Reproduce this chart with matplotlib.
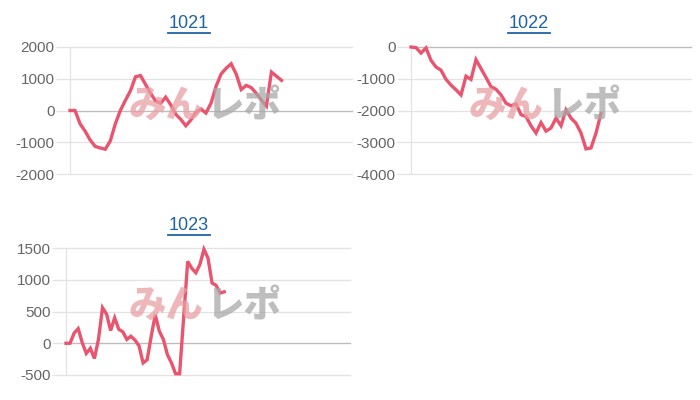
import matplotlib
matplotlib.use("Agg")
import matplotlib.pyplot as plt
import numpy as np

plt.rcParams['font.family'] = ['Liberation Sans', 'DejaVu Sans']

titles = ["1021", "1022", "1023"]

values_1021 = [0, 0, -420, -650, -930, -1130, -1180, -1220, -960, -420,
               0, 320, 620, 1060, 1100, 820, 540, 300, 230, 420,
               180, -120, -280, -480, -300, -60, 50, -80, 230, 760,
               1150, 1330, 1470, 1150, 660, 790, 720, 540, 330, 140,
               1210, 1080, 950]
values_1022 = [0, -20, -190, -30, -420, -630, -730, -1020, -1200, -1350,
               -1510, -920, -1020, -400, -680, -960, -1250, -1330, -1510, -1770,
               -1850, -1790, -2130, -2190, -2480, -2710, -2380, -2650, -2550, -2240,
               -2480, -1980, -2240, -2400, -2710, -3210, -3180, -2710, -2090]
values_1023 = [0, 0, 160, 230, 10, -160, -80, -240, 60, 560,
               460, 200, 400, 220, 180, 60, 110, 50, -40, -310,
               -260, 110, 450, 190, 60, -180, -310, -480, -480, 410,
               1290, 1180, 1110, 1240, 1480, 1340, 950, 910, 790, 810]

series = [values_1021, values_1022, values_1023]
yticks = [[2000, 1000, 0, -1000, -2000],
          [0, -1000, -2000, -3000, -4000],
          [1500, 1000, 500, 0, -500]]
x_slots = [56, 56, 70]

# axes rectangles in pixels: left, top, right, bottom
rects = [(70, 47, 352, 174), (411, 47, 691, 174), (66, 248, 350, 375)]
title_pos = [(189, 23), (529, 23), (189, 225)]
mark_pos = [(205, 106), (545, 106), (205, 306)]

W, H = 700, 400
fig = plt.figure(figsize=(7, 4), dpi=100)

line_color = "#e9546f"
title_color = "#1f63a8"
cjk = ["Noto Sans CJK JP", "DejaVu Sans"]

for i, (vals, ticks, xs, r) in enumerate(zip(series, yticks, x_slots, rects)):
    l, t, rr, b = r
    ax = fig.add_axes([l / W, 1 - b / H, (rr - l) / W, (b - t) / H])
    ax.set_ylim(min(ticks), max(ticks))
    ax.set_xlim(0, xs)
    ax.set_yticks(ticks)
    ax.set_yticklabels([str(v) for v in ticks])
    ax.set_xticks([])
    for s in ["top", "right", "bottom"]:
        ax.spines[s].set_visible(False)
    ax.spines["left"].set_color("#e3e3e3")
    ax.spines["left"].set_linewidth(0.9)
    ax.tick_params(axis="y", length=10, width=0.9, color="#e3e3e3",
                   labelsize=11, labelcolor="#666666", pad=1)
    for v in ticks:
        if v == 0:
            ax.axhline(v, color="#bdbdbd", lw=1.0, zorder=1, clip_on=False)
        else:
            ax.axhline(v, color="#e3e3e3", lw=0.9, zorder=1, clip_on=False)
    # watermark
    mx, my = mark_pos[i]
    fig.text((mx - 1) / W, 1 - my / H, "みん", ha="right", va="center",
             fontsize=27, fontweight="heavy", color="#e9a0a3", alpha=0.75,
             family=cjk, zorder=0.5)
    fig.text((mx + 1) / W, 1 - my / H, "レポ", ha="left", va="center",
             fontsize=27, fontweight="heavy", color="#a8a8a8", alpha=0.75,
             family=cjk, zorder=0.5)
    ax.patch.set_alpha(0)
    x = np.arange(len(vals))
    ax.plot(x, vals, color=line_color, lw=2.4, solid_joinstyle="miter",
            zorder=3, clip_on=False)
    # title
    tx, ty = title_pos[i]
    fig.text(tx / W, 1 - ty / H, titles[i], ha="center",
             va="center", fontsize=13, color=title_color)
    uy = 1 - (ty + 10) / H
    fig.add_artist(plt.Line2D([(tx - 21) / W, (tx + 21) / W],
                              [uy, uy], color=title_color, lw=1.3))

fig.savefig("out.png", dpi=100, facecolor="white")
